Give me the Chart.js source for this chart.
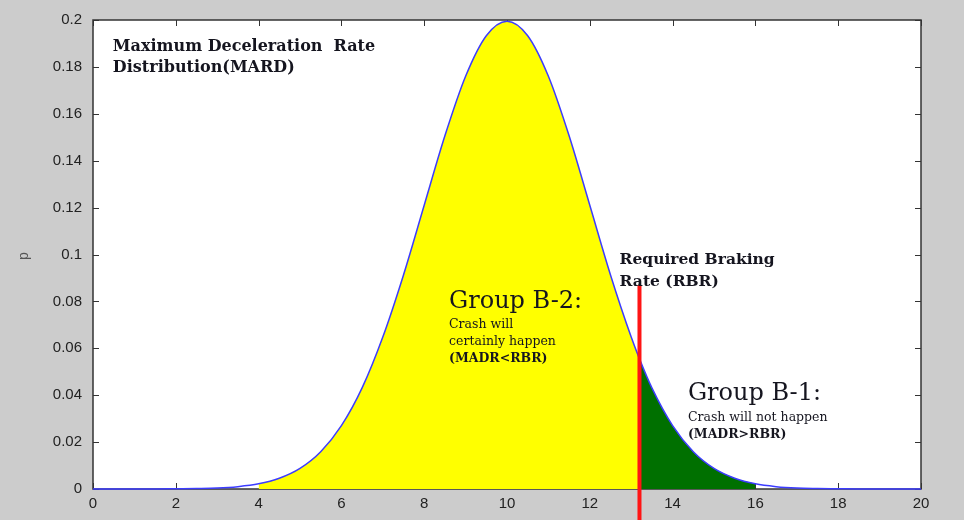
<!DOCTYPE html>
<html>
<head>
<meta charset="utf-8">
<script src="https://cdn.jsdelivr.net/npm/chart.js@4.4.1/dist/chart.umd.min.js"></script>
<style>
  body { margin: 0; background: #cccccc; }
  canvas { display: block; }
</style>
</head>
<body>
<canvas id="mardChart" width="964" height="520"></canvas>
<script>
// Deceleration rate (x) and probability density (p)
var xValues = [0, 0.5, 1, 1.5, 2, 2.5, 3, 3.5, 4, 4.5, 5, 5.5, 6, 6.5, 7, 7.5, 8, 8.5, 9, 9.5,
               10, 10.5, 11, 11.5, 12, 12.5, 13, 13.2, 13.5, 14, 14.5, 15, 15.5, 16, 16.5, 17,
               17.5, 18, 18.5, 19, 19.5, 20];
var pValues = [0, 0, 0, 0, 0.0001, 0.0002, 0.0004, 0.0010, 0.0022, 0.0046, 0.0088, 0.0159, 0.0270,
               0.0431, 0.0648, 0.0913, 0.1210, 0.1506, 0.1760, 0.1933, 0.1995, 0.1933, 0.1760,
               0.1506, 0.1210, 0.0913, 0.0648, 0.0555, 0.0431, 0.0270, 0.0159, 0.0088, 0.0046,
               0.0022, 0.0010, 0.0004, 0.0002, 0.0001, 0, 0, 0, 0];

// shaded regions and the required braking rate marker
var yellowStart = 4;
var rbrValue = 13.2;
var greenEnd = 16;
var rbrLine = [-0.0135, 0.087];

var xTickValues = [0, 2, 4, 6, 8, 10, 12, 14, 16, 18, 20];
var xTickLabels = ['0', '2', '4', '6', '8', '10', '12', '14', '16', '18', '20'];
var yTickValues = [0, 0.02, 0.04, 0.06, 0.08, 0.1, 0.12, 0.14, 0.16, 0.18, 0.2];
var yTickLabels = ['0', '0.02', '0.04', '0.06', '0.08', '0.1', '0.12', '0.14', '0.16', '0.18', '0.2'];

function pointsBetween(lo, hi) {
    var pts = [];
    xValues.forEach(function(x, i) {
        if (x >= lo && x <= hi) pts.push({ x: x, y: pValues[i] });
    });
    return pts;
}

var curvePoints = pointsBetween(0, 20);
var yellowPoints = pointsBetween(yellowStart, rbrValue);
var greenPoints = pointsBetween(rbrValue, greenEnd);
var rbrPoints = rbrLine.map(function(y) { return { x: rbrValue, y: y }; });

// text labels placed in data coordinates
var notes = [
    { text: 'Maximum Deceleration  Rate', x: 0.48, y: 0.1885, font: 'bold 16px "DejaVu Serif"' },
    { text: 'Distribution(MARD)', x: 0.48, y: 0.1795, font: 'bold 16px "DejaVu Serif"' },
    { text: 'Required Braking', x: 12.72, y: 0.0978, font: 'bold 15.5px "DejaVu Serif"' },
    { text: 'Rate (RBR)', x: 12.72, y: 0.0884, font: 'bold 15.5px "DejaVu Serif"' },
    { text: 'Group B-2:', x: 8.6, y: 0.0799, font: '24px "DejaVu Serif"' },
    { text: 'Crash will', x: 8.6, y: 0.0700, font: '12.5px "DejaVu Serif"' },
    { text: 'certainly happen', x: 8.6, y: 0.0627, font: '12.5px "DejaVu Serif"' },
    { text: '(MADR<RBR)', x: 8.6, y: 0.0555, font: 'bold 12.5px "DejaVu Serif"' },
    { text: 'Group B-1:', x: 14.37, y: 0.0405, font: '24px "DejaVu Serif"' },
    { text: 'Crash will not happen', x: 14.37, y: 0.0303, font: '12.5px "DejaVu Serif"' },
    { text: '(MADR>RBR)', x: 14.37, y: 0.0230, font: 'bold 12.5px "DejaVu Serif"' }
];

var matlabFrame = {
    id: 'matlabFrame',
    beforeDraw: function(chart) {
        var ctx = chart.ctx, a = chart.chartArea;
        ctx.save();
        ctx.fillStyle = '#cccccc';
        ctx.fillRect(0, 0, chart.width, chart.height);
        ctx.fillStyle = '#ffffff';
        ctx.fillRect(a.left, a.top, a.right - a.left, a.bottom - a.top);
        ctx.restore();
    },
    beforeDatasetsDraw: function(chart) {
        var ctx = chart.ctx, a = chart.chartArea;
        var xs = chart.scales.x, ys = chart.scales.y;
        ctx.save();
        ctx.strokeStyle = '#333333';
        ctx.lineWidth = 1.5;
        ctx.strokeRect(a.left, a.top, a.right - a.left, a.bottom - a.top);
        ctx.lineWidth = 1;
        ctx.beginPath();
        xTickValues.forEach(function(v) {
            var px = Math.round(xs.getPixelForValue(v)) + 0.5;
            ctx.moveTo(px, a.bottom); ctx.lineTo(px, a.bottom - 6);
            ctx.moveTo(px, a.top); ctx.lineTo(px, a.top + 6);
        });
        yTickValues.forEach(function(v) {
            var py = Math.round(ys.getPixelForValue(v)) + 0.5;
            ctx.moveTo(a.left, py); ctx.lineTo(a.left + 6, py);
            ctx.moveTo(a.right, py); ctx.lineTo(a.right - 6, py);
        });
        ctx.stroke();
        ctx.restore();
    },
    afterDraw: function(chart) {
        var ctx = chart.ctx;
        var xs = chart.scales.x, ys = chart.scales.y;
        ctx.save();
        ctx.fillStyle = '#15151f';
        ctx.textBaseline = 'middle';
        ctx.textAlign = 'left';
        notes.forEach(function(n) {
            ctx.font = n.font;
            ctx.fillText(n.text, xs.getPixelForValue(n.x), ys.getPixelForValue(n.y));
        });
        // y axis title
        ctx.translate(24, 256);
        ctx.rotate(-Math.PI / 2);
        ctx.textAlign = 'center';
        ctx.fillStyle = '#555555';
        ctx.font = '14px "Liberation Sans"';
        ctx.fillText('p', 0, 0);
        ctx.restore();
    }
};

var tickFont = { family: '"Liberation Sans", sans-serif', size: 15 };

var mardChart = new Chart(document.getElementById('mardChart'), {
    type: 'line',
    data: {
        datasets: [
            {
                label: 'RBR',
                data: rbrPoints,
                borderColor: '#ff1414',
                borderWidth: 4,
                pointRadius: 0,
                fill: false,
                clip: false,
                order: 0
            },
            {
                label: 'MARD',
                data: curvePoints,
                borderColor: '#3c3cff',
                borderWidth: 1.5,
                pointRadius: 0,
                fill: false,
                cubicInterpolationMode: 'monotone',
                clip: false,
                order: 1
            },
            {
                label: 'Group B-1',
                data: greenPoints,
                borderWidth: 0,
                borderColor: 'rgba(0,0,0,0)',
                backgroundColor: '#007000',
                pointRadius: 0,
                fill: 'origin',
                cubicInterpolationMode: 'monotone',
                order: 2
            },
            {
                label: 'Group B-2',
                data: yellowPoints,
                borderWidth: 0,
                borderColor: 'rgba(0,0,0,0)',
                backgroundColor: '#ffff00',
                pointRadius: 0,
                fill: 'origin',
                cubicInterpolationMode: 'monotone',
                order: 3
            }
        ]
    },
    options: {
        responsive: false,
        devicePixelRatio: 1,
        animation: false,
        layout: { padding: { top: 20, right: 43, left: 0, bottom: 0 } },
        plugins: {
            legend: { display: false },
            tooltip: { enabled: false }
        },
        scales: {
            x: {
                type: 'linear',
                min: 0,
                max: 20,
                afterBuildTicks: function(scale) {
                    scale.ticks = xTickValues.map(function(v) { return { value: v }; });
                },
                ticks: {
                    color: '#222222',
                    font: tickFont,
                    padding: 6,
                    maxRotation: 0,
                    callback: function(v, i) { return xTickLabels[i]; }
                },
                grid: { drawOnChartArea: false, drawTicks: false },
                border: { display: false },
                afterFit: function(scale) { scale.height = 31; }
            },
            y: {
                min: 0,
                max: 0.2,
                afterBuildTicks: function(scale) {
                    scale.ticks = yTickValues.map(function(v) { return { value: v }; });
                },
                ticks: {
                    color: '#222222',
                    font: tickFont,
                    padding: 11,
                    callback: function(v, i) { return yTickLabels[i]; }
                },
                grid: { drawOnChartArea: false, drawTicks: false },
                border: { display: false },
                afterFit: function(scale) { scale.width = 93; }
            }
        }
    },
    plugins: [matlabFrame]
});
</script>
</body>
</html>
